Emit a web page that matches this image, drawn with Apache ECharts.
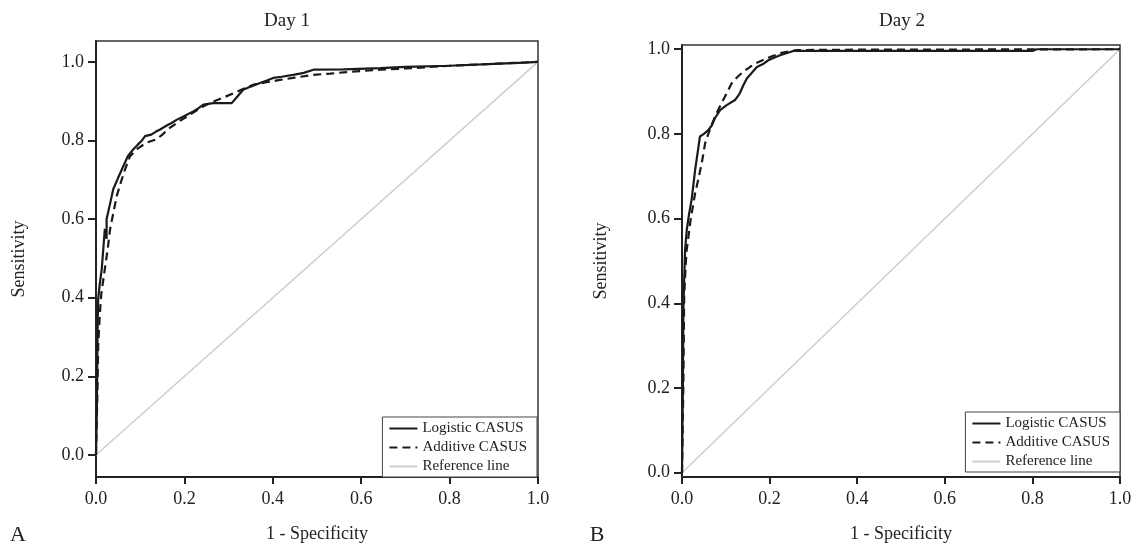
<!DOCTYPE html>
<html><head><meta charset="utf-8">
<script src="https://cdn.jsdelivr.net/npm/echarts@6/dist/echarts.min.js"></script>
<style>html,body{margin:0;padding:0;background:#fff}#c{width:1137px;height:548px}</style>
</head><body><div id="c"></div>
<script>
const xTicks = [0, 0.2, 0.4, 0.6, 0.8, 1.0];
const yTicks = [0, 0.2, 0.4, 0.6, 0.8, 1.0];
const panelTitles = ['Day 1', 'Day 2'];
const panelLetters = ['A', 'B'];
const seriesNames = ['Logistic CASUS', 'Additive CASUS', 'Reference line'];
const axisNames = ['1 - Specificity', 'Sensitivity'];

// [1 - specificity, sensitivity]
const day1Logistic = [[0,0],[0.002,0.12],[0.003,0.26],[0.004,0.35],[0.005,0.397],[0.008,0.43],[0.013,0.473],[0.020,0.575],[0.024,0.55],[0.024,0.6],[0.032,0.64],[0.039,0.676],[0.050,0.705],[0.062,0.735],[0.072,0.76],[0.084,0.777],[0.095,0.79],[0.104,0.80],[0.111,0.811],[0.125,0.815],[0.135,0.822],[0.145,0.828],[0.160,0.838],[0.172,0.845],[0.183,0.853],[0.200,0.862],[0.220,0.874],[0.232,0.882],[0.243,0.891],[0.265,0.895],[0.307,0.895],[0.320,0.912],[0.333,0.929],[0.350,0.937],[0.371,0.946],[0.385,0.952],[0.401,0.959],[0.420,0.962],[0.446,0.967],[0.470,0.972],[0.492,0.980],[0.560,0.981],[0.643,0.984],[0.700,0.987],[0.800,0.990],[0.900,0.995],[0.970,0.998],[1.0,1.0]];
const day1Additive = [[0,0],[0.003,0.15],[0.005,0.28],[0.009,0.364],[0.012,0.41],[0.020,0.473],[0.026,0.52],[0.032,0.575],[0.040,0.62],[0.047,0.659],[0.058,0.70],[0.066,0.727],[0.077,0.760],[0.095,0.78],[0.115,0.795],[0.137,0.803],[0.150,0.815],[0.167,0.832],[0.190,0.85],[0.213,0.866],[0.240,0.885],[0.265,0.899],[0.290,0.91],[0.311,0.920],[0.335,0.932],[0.356,0.942],[0.385,0.948],[0.416,0.954],[0.450,0.96],[0.492,0.967],[0.530,0.970],[0.567,0.974],[0.643,0.980],[0.700,0.983],[0.800,0.990],[0.900,0.995],[1.0,1.0]];
const day2Logistic = [[0,0],[0.002,0.2],[0.003,0.38],[0.005,0.456],[0.007,0.527],[0.011,0.574],[0.016,0.61],[0.022,0.645],[0.030,0.715],[0.041,0.794],[0.050,0.80],[0.060,0.809],[0.068,0.82],[0.075,0.837],[0.087,0.856],[0.102,0.868],[0.121,0.880],[0.132,0.896],[0.140,0.915],[0.148,0.931],[0.160,0.945],[0.171,0.958],[0.185,0.965],[0.197,0.974],[0.210,0.980],[0.224,0.986],[0.240,0.991],[0.254,0.996],[0.300,0.996],[0.800,0.996],[0.810,1.0],[1.0,1.0]];
const day2Additive = [[0,0],[0.003,0.2],[0.005,0.42],[0.010,0.52],[0.020,0.60],[0.030,0.66],[0.037,0.692],[0.045,0.731],[0.053,0.779],[0.065,0.815],[0.079,0.849],[0.094,0.880],[0.104,0.90],[0.113,0.919],[0.127,0.935],[0.140,0.947],[0.155,0.958],[0.167,0.966],[0.180,0.972],[0.193,0.978],[0.210,0.985],[0.224,0.991],[0.245,0.995],[0.262,0.998],[0.400,0.999],[1.0,1.0]];
const referenceLine = [[0,0],[1,1]];

const FONT = "'Liberation Serif','DejaVu Serif',serif";
const TXT = '#222';

const grids = [
  {left: 96, right: 599, top: 41, bottom: 69},
  {left: 682, right: 17, top: 45, bottom: 70}
];
const yRanges = [[-0.056, 1.053], [-0.01, 1.01]];

function xAxis(i) {
  return {
    gridIndex: i, type: 'value', min: 0, max: 1, interval: 0.2,
    name: axisNames[0], nameLocation: 'middle', nameGap: 48,
    nameTextStyle: {fontFamily: FONT, fontSize: 18, color: TXT},
    axisLine: {onZero: false, lineStyle: {color: '#222', width: 2}},
    axisTick: {show: true, length: 7, lineStyle: {color: '#222', width: 2}},
    axisLabel: {fontFamily: FONT, fontSize: 18, color: TXT, margin: 13,
      formatter: v => v.toFixed(1)},
    splitLine: {show: false}
  };
}
function yAxis(i) {
  return {
    gridIndex: i, type: 'value', min: yRanges[i][0], max: yRanges[i][1],
    name: axisNames[1], nameLocation: 'middle', nameGap: i === 0 ? 68 : 72,
    nameTextStyle: {fontFamily: FONT, fontSize: 18, color: TXT},
    axisLine: {onZero: false, lineStyle: {color: '#222', width: 2}},
    axisTick: {show: true, length: 8, customValues: yTicks, lineStyle: {color: '#222', width: 2}},
    axisLabel: {fontFamily: FONT, fontSize: 18, color: TXT, margin: 12,
      customValues: yTicks, formatter: v => Number(v).toFixed(1)},
    splitLine: {show: false}
  };
}
function lineSeries(name, data, i, style) {
  return {
    name: name, type: 'line', xAxisIndex: i, yAxisIndex: i, data: data,
    showSymbol: false, symbol: 'none', animation: false,
    lineStyle: style, itemStyle: {color: style.color}
  };
}
const solid = {color: '#1a1a1a', width: 2.2, type: 'solid'};
const dashed = {color: '#1a1a1a', width: 2.2, type: [8, 5]};
const refStyle = {color: '#cfcfcf', width: 1.6, type: 'solid'};

const series = [];
[[day1Logistic, day1Additive], [day2Logistic, day2Additive]].forEach((pair, i) => {
  series.push(lineSeries(seriesNames[2], referenceLine, i, refStyle));
  series.push(lineSeries(seriesNames[1], pair[1], i, dashed));
  series.push(lineSeries(seriesNames[0], pair[0], i, solid));
});

function legend(pos) {
  return Object.assign({
    orient: 'vertical', data: seriesNames,
    backgroundColor: '#fff', borderColor: '#444', borderWidth: 1,
    padding: [4, 10, 3, 6], itemGap: 4, itemWidth: 28, itemHeight: 12,
    itemStyle: {opacity: 0, borderWidth: 0},
    textStyle: {fontFamily: FONT, fontSize: 15, color: TXT},
    selectedMode: false
  }, pos);
}

const chart = echarts.init(document.getElementById('c'), null, {renderer: 'canvas'});
chart.setOption({
  animation: false,
  backgroundColor: '#fff',
  grid: grids.map(g => Object.assign({show: true, borderColor: '#333', borderWidth: 1.5, backgroundColor: 'transparent'}, g)),
  xAxis: [xAxis(0), xAxis(1)],
  yAxis: [yAxis(0), yAxis(1)],
  legend: [legend({right: 600, bottom: 71}), legend({right: 17, bottom: 76})],
  series: series,
  graphic: [
    {type: 'text', x: 287, y: 21, style: {text: panelTitles[0], font: '19px ' + FONT, fill: TXT, align: 'center', verticalAlign: 'middle'}},
    {type: 'text', x: 902, y: 21, style: {text: panelTitles[1], font: '19px ' + FONT, fill: TXT, align: 'center', verticalAlign: 'middle'}},
    {type: 'text', x: 18, y: 535, style: {text: panelLetters[0], font: '22px ' + FONT, fill: TXT, align: 'center', verticalAlign: 'middle'}},
    {type: 'text', x: 597, y: 535, style: {text: panelLetters[1], font: '22px ' + FONT, fill: TXT, align: 'center', verticalAlign: 'middle'}}
  ]
});
</script>
</body></html>
